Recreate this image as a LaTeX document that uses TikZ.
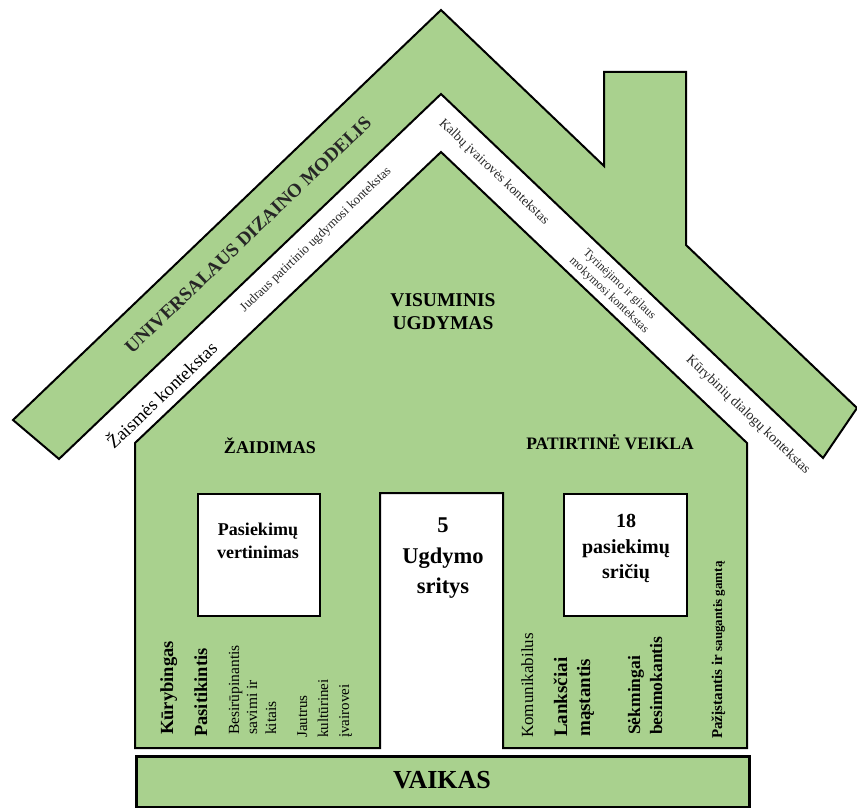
\documentclass[tikz,border=0pt]{standalone}
\usepackage{fontspec}
\setmainfont{Liberation Serif}
\definecolor{leaf}{HTML}{A9D18E}
\newcommand{\fsz}[1]{\fontsize{#1}{#1}\selectfont}
\tikzset{
  greenshape/.style={fill=leaf, draw=black, line width=2pt, line join=miter},
  whitebox/.style={fill=white, draw=black, line width=2pt, inner sep=0pt, anchor=north west},
  lbl/.style={inner sep=0pt, text=black},
  vlbl/.style={inner sep=0pt, text=black, rotate=90, anchor=base west},
  roofl/.style={inner sep=0pt, text=black!85, rotate=43.7},
  roofr/.style={inner sep=0pt, text=black!85, rotate=-43.6},
}
\begin{document}
\begin{tikzpicture}[x=1pt,y=-1pt]
\useasboundingbox (0,0) rectangle (857,808);
% roof band with chimney
\draw[greenshape] (13,420) -- (441,10) -- (604,166) -- (604,72) -- (686,72) -- (686,245)
  -- (857,408) -- (823,458) -- (441,94) -- (59,459) -- cycle;
% house body with door cut-out
\draw[greenshape] (135,748) -- (135,443) -- (441,152) -- (747,443) -- (747,748)
  -- (503,748) -- (503,493) -- (380,493) -- (380,748) -- cycle;
% boxes
\node[whitebox, minimum width=122pt, minimum height=122pt] (pv) at (197,493) {};
\node[whitebox, minimum width=123pt, minimum height=122pt] (ps) at (563,493) {};
\node[draw=black, fill=leaf, line width=3pt, inner sep=0pt, anchor=north west,
      minimum width=613pt, minimum height=51.5pt] (vaikasbox) at (135,754.5) {};

% roof texts
\node[roofl] (udm) at (248,235) {\fsz{19}\bfseries UNIVERSALAUS DIZAINO MODELIS};
\node[roofl, text=black] (zk) at (161,394) {\fsz{18.5}Žaismės kontekstas};
\node[roofl] (jk) at (316,240) {\fsz{13}Judraus patirtinio ugdymosi kontekstas};
\node[roofr] (kk) at (494,172) {\fsz{13.5}Kalbų įvairovės kontekstas};
\node[roofr, align=center, font=\fontsize{12}{15}\selectfont] (tk) at (614,290) {Tyrinėjimo ir gilaus\\mokymosi kontekstas};
\node[roofr] (kdk) at (748,415) {\fsz{14}Kūrybinių dialogų kontekstas};

% horizontal texts
\node[lbl, anchor=base] (vis1) at (443,306) {\fsz{19.5}\bfseries VISUMINIS};
\node[lbl, anchor=base] (vis2) at (443,329) {\fsz{19.5}\bfseries UGDYMAS};
\node[lbl, anchor=base] (zaid) at (270,453) {\fsz{18}\bfseries ŽAIDIMAS};
\node[lbl, anchor=base] (patv) at (610,449) {\fsz{17.5}\bfseries PATIRTINĖ VEIKLA};
\node[lbl, anchor=base] (pv1) at (258,535) {\fsz{18}\bfseries Pasiekimų};
\node[lbl, anchor=base] (pv2) at (258,558) {\fsz{18}\bfseries vertinimas};
\node[lbl, anchor=base] (us1) at (443,532) {\fsz{22.5}\bfseries 5};
\node[lbl, anchor=base] (us2) at (443,563) {\fsz{22.5}\bfseries Ugdymo};
\node[lbl, anchor=base] (us3) at (443,593) {\fsz{22.5}\bfseries sritys};
\node[lbl, anchor=base] (ps1) at (626,527) {\fsz{20}\bfseries 18};
\node[lbl, anchor=base] (ps2) at (626,553) {\fsz{20}\bfseries pasiekimų};
\node[lbl, anchor=base] (ps3) at (626,578) {\fsz{20}\bfseries sričių};
\node[lbl, anchor=base] (vaikas) at (442,788) {\fsz{26}\bfseries VAIKAS};

% vertical texts, left part
\node[vlbl] (kur) at (173,735) {\fsz{18.5}\bfseries Kūrybingas};
\node[vlbl] (pas) at (207,737) {\fsz{18.5}\bfseries Pasitikintis};
\node[vlbl] (bes1) at (239,735) {\fsz{15.5}Besirūpinantis};
\node[vlbl] (bes2) at (257,735) {\fsz{15.5}savimi ir};
\node[vlbl] (bes3) at (276,735) {\fsz{15.5}kitais};
\node[vlbl] (jau1) at (307,738) {\fsz{15}Jautrus};
\node[vlbl] (jau2) at (328,738) {\fsz{15}kultūrinei};
\node[vlbl] (jau3) at (349,738) {\fsz{15}įvairovei};
% vertical texts, right part
\node[vlbl] (kom) at (533,738) {\fsz{17}Komunikabilus};
\node[vlbl] (lan1) at (567,737) {\fsz{19}\bfseries Lanksčiai};
\node[vlbl] (lan2) at (590,737) {\fsz{19}\bfseries mąstantis};
\node[vlbl] (sek1) at (640,735) {\fsz{17.5}\bfseries Sėkmingai};
\node[vlbl] (sek2) at (662,735) {\fsz{17.5}\bfseries besimokantis};
\node[vlbl] (paz) at (722,739) {\bfseries\fsz{15}Pažįstantis ir \fsz{13}saugantis gamtą};
\end{tikzpicture}
\end{document}
